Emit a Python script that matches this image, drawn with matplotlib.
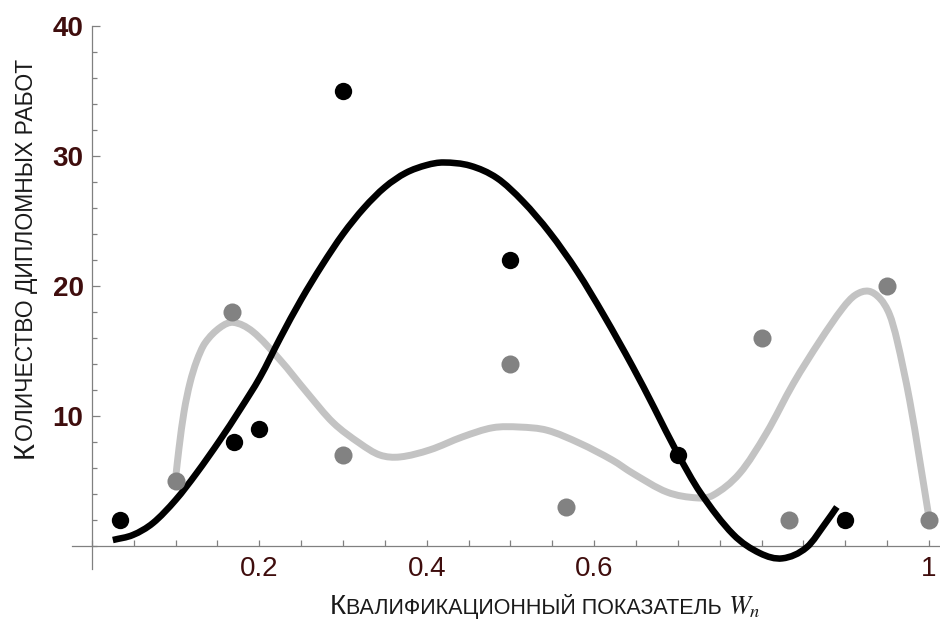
import matplotlib
matplotlib.use('Agg')
import matplotlib.pyplot as plt
from matplotlib.path import Path
from matplotlib.patches import PathPatch
from matplotlib.ticker import MultipleLocator, FixedLocator

plt.rcParams['font.family'] = ['Liberation Sans', 'DejaVu Sans']
plt.rcParams['mathtext.fontset'] = 'stix'

# точки (чёрные и серые)
black_x = [0.034, 0.17, 0.2, 0.3, 0.5, 0.7, 0.9]
black_y = [2, 8, 9, 35, 22, 7, 2]
gray_x = [0.1, 0.167, 0.3, 0.5, 0.567, 0.8, 0.833, 0.95, 1.0]
gray_y = [5, 18, 7, 14, 3, 16, 2, 20, 2]

# сглаживающие кривые
black_curve_x = [0.025, 0.049, 0.073, 0.100, 0.125, 0.153, 0.177, 0.201, 0.225,
                 0.250, 0.275, 0.300, 0.325, 0.350, 0.375, 0.400, 0.420, 0.452,
                 0.484, 0.515, 0.547, 0.580, 0.612, 0.646, 0.672, 0.699, 0.727,
                 0.766, 0.798, 0.825, 0.854, 0.878, 0.890]
black_curve_y = [0.46, 0.85, 1.77, 3.54, 5.6, 8.15, 10.5, 13.0, 16.0,
                 18.95, 21.6, 24.0, 26.0, 27.6, 28.7, 29.3, 29.5, 29.25,
                 28.3, 26.5, 24.1, 21.1, 17.7, 13.8, 10.6, 7.2, 4.1,
                 0.9, -0.55, -0.95, -0.1, 1.9, 3.0]
gray_curve_x = [0.100, 0.104, 0.110, 0.117, 0.125, 0.135, 0.153, 0.169, 0.192,
                0.225, 0.257, 0.288, 0.320, 0.344, 0.368, 0.404, 0.443, 0.479,
                0.511, 0.544, 0.583, 0.622, 0.646, 0.687, 0.723, 0.742, 0.774,
                0.806, 0.838, 0.870, 0.897, 0.912, 0.928, 0.942, 0.953, 0.962,
                0.977, 0.989, 1.000]
gray_curve_y = [5.2, 7.5, 10.3, 12.5, 14.2, 15.6, 16.8, 17.2, 16.5,
                14.3, 11.8, 9.5, 7.9, 7.0, 6.85, 7.4, 8.4, 9.1,
                9.15, 8.9, 7.9, 6.6, 5.6, 4.15, 3.7, 3.9, 5.6,
                8.7, 12.5, 15.8, 18.3, 19.3, 19.6, 19.0, 17.8, 15.8,
                11.2, 6.6, 2.2]

W, H = 940, 626
fig = plt.figure(figsize=(W / 100, H / 100), dpi=100)
ax = fig.add_axes([0.0764, 0.0904, 0.9234, 0.8681])
ax.set_xlim(-0.024, 1.013)
ax.set_ylim(-1.8, 40)


def smooth_path(xs, ys):
    # кубические сегменты Безье (эрмитов сплайн) через снятые точки
    n = len(xs)
    m = []
    for i in range(n):
        a = max(i - 1, 0)
        b = min(i + 1, n - 1)
        m.append((ys[b] - ys[a]) / (xs[b] - xs[a]))
    verts = [(xs[0], ys[0])]
    codes = [Path.MOVETO]
    for i in range(n - 1):
        h = xs[i + 1] - xs[i]
        verts += [(xs[i] + h / 3, ys[i] + m[i] * h / 3),
                  (xs[i + 1] - h / 3, ys[i + 1] - m[i + 1] * h / 3),
                  (xs[i + 1], ys[i + 1])]
        codes += [Path.CURVE4] * 3
    return Path(verts, codes)


ax.add_patch(PathPatch(smooth_path(gray_curve_x, gray_curve_y), fill=False,
                       edgecolor='#c3c3c3', lw=5, joinstyle='round', zorder=2))
ax.add_patch(PathPatch(smooth_path(black_curve_x, black_curve_y), fill=False,
                       edgecolor='black', lw=4.7, joinstyle='round', zorder=3))
ax.plot(gray_x, gray_y, 'o', color='#828282', ms=13, mec='none', zorder=4)
ax.plot(black_x, black_y, 'o', color='black', ms=12.5, mec='none', zorder=5)

for s in ['top', 'right']:
    ax.spines[s].set_visible(False)
ax.spines['left'].set_position(('data', 0))
ax.spines['bottom'].set_position(('data', 0))
for s in ['left', 'bottom']:
    ax.spines[s].set_color('#808080')
    ax.spines[s].set_linewidth(0.9)

lab_col = '#3f0d0d'
ax.xaxis.set_major_locator(FixedLocator([0.2, 0.4, 0.6, 1.0]))
ax.set_xticklabels(['0.2', '0.4', '0.6', '1'])
ax.xaxis.set_minor_locator(MultipleLocator(0.05))
ax.set_yticks([10, 20, 30, 40], ['10', '20', '30', '40'], fontweight='bold')
ax.yaxis.set_minor_locator(MultipleLocator(2))

ax.tick_params(which='both', direction='in', color='#808080', width=0.9,
               labelcolor=lab_col)
ax.tick_params(axis='x', which='both', length=4.5, pad=7, labelsize=20)
ax.tick_params(axis='y', which='major', length=5.5, pad=6, labelsize=20)
ax.tick_params(axis='y', which='minor', length=3.5)


def put_pieces(pieces, x0, y0, vertical):
    # подписи осей капителью: по кусочкам разного размера
    renderer = fig.canvas.get_renderer()
    x, y = x0, y0
    for s, size in pieces:
        if vertical:
            t = fig.text(x / W, y / H, s, rotation=90, rotation_mode='anchor',
                         ha='left', va='baseline', fontsize=size, color='#1a1a1a')
            y += t.get_window_extent(renderer).height
        else:
            t = fig.text(x / W, y / H, s, ha='left', va='baseline',
                         fontsize=size, color='#1a1a1a')
            x += t.get_window_extent(renderer).width


put_pieces([('К', 21), ('ОЛИЧЕСТВО ДИПЛОМНЫХ РАБОТ', 16.5)], 33, 168, True)
put_pieces([('К', 20), ('ВАЛИФИКАЦИОННЫЙ ПОКАЗАТЕЛЬ ', 15.5), ('$W_n$', 19)],
           330, 12, False)

fig.savefig('out.png', dpi=100)
